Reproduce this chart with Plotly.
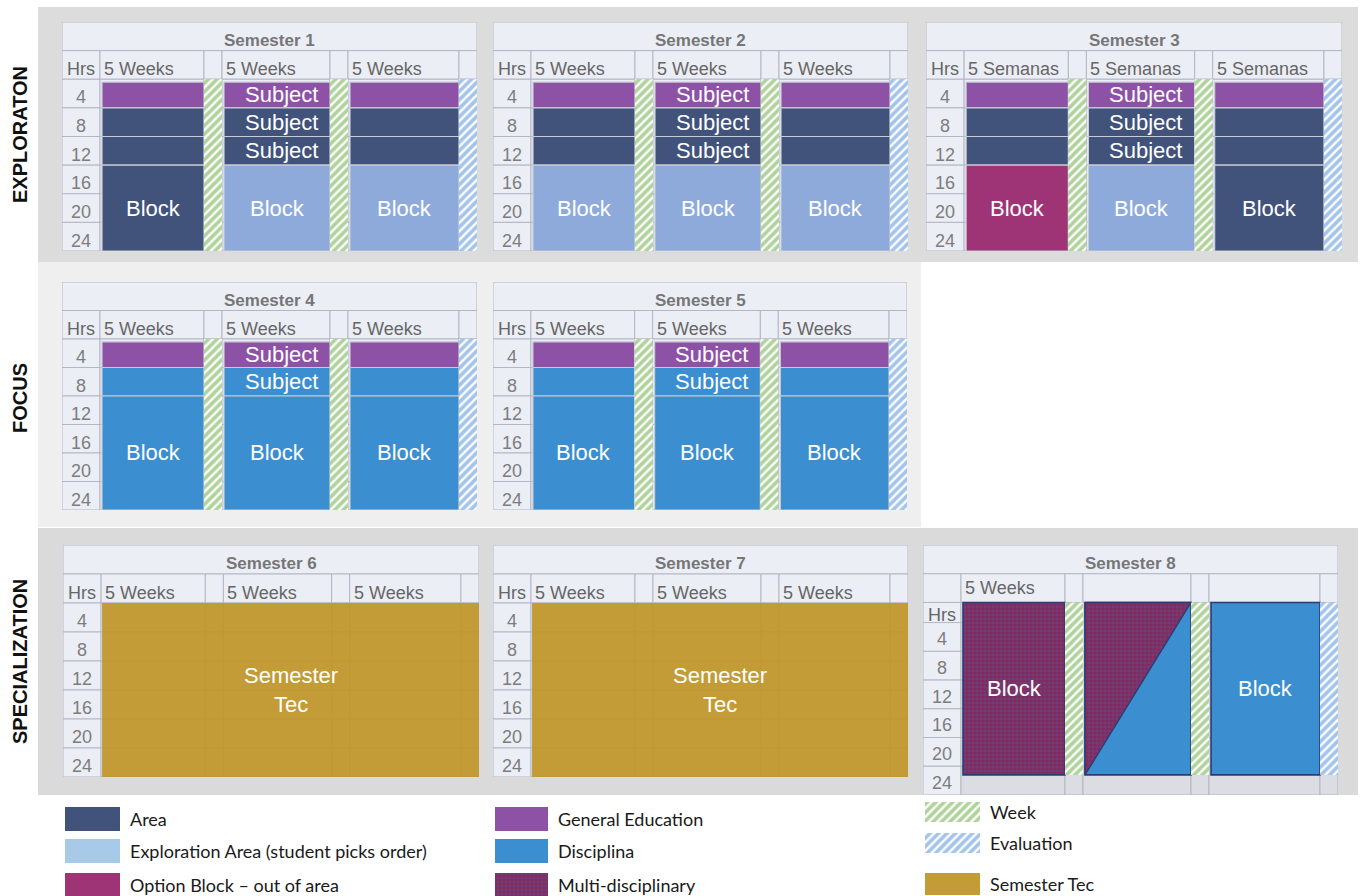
import plotly.graph_objects as go

W, H = 1362, 896

# ===================== chart content (data) =====================
stage_names = ["EXPLORATON", "FOCUS", "SPECIALIZATION"]
semester_names = ["Semester 1", "Semester 2", "Semester 3", "Semester 4",
                  "Semester 5", "Semester 6", "Semester 7", "Semester 8"]
hour_labels = ["4", "8", "12", "16", "20", "24"]
sem8_row_labels = ["Hrs", "4", "8", "12", "16", "20", "24"]
header_weeks = ["Hrs", "5 Weeks", "", "5 Weeks", "", "5 Weeks", ""]
header_semanas = ["Hrs", "5 Semanas", "", "5 Semanas", "", "5 Semanas", ""]
header_sem8 = ["", "5 Weeks", "", "", "", "", ""]
semester_headers = [header_weeks, header_weeks, header_semanas, header_weeks,
                    header_weeks, header_weeks, header_weeks, header_sem8]

# hours stacked from the top of each 5-week period: (category, hours, label)
sem1_periods = [
    [("GE", 4, ""), ("AR", 4, ""), ("AR", 4, ""), ("AR", 12, "Block")],
    [("GE", 4, "Subject"), ("AR", 4, "Subject"), ("AR", 4, "Subject"), ("EX", 12, "Block")],
    [("GE", 4, ""), ("AR", 4, ""), ("AR", 4, ""), ("EX", 12, "Block")],
]
sem2_periods = [
    [("GE", 4, ""), ("AR", 4, ""), ("AR", 4, ""), ("EX", 12, "Block")],
    [("GE", 4, "Subject"), ("AR", 4, "Subject"), ("AR", 4, "Subject"), ("EX", 12, "Block")],
    [("GE", 4, ""), ("AR", 4, ""), ("AR", 4, ""), ("EX", 12, "Block")],
]
sem3_periods = [
    [("GE", 4, ""), ("AR", 4, ""), ("AR", 4, ""), ("OB", 12, "Block")],
    [("GE", 4, "Subject"), ("AR", 4, "Subject"), ("AR", 4, "Subject"), ("EX", 12, "Block")],
    [("GE", 4, ""), ("AR", 4, ""), ("AR", 4, ""), ("AR", 12, "Block")],
]
sem4_periods = [
    [("GE", 4, ""), ("DI", 4, ""), ("DI", 16, "Block")],
    [("GE", 4, "Subject"), ("DI", 4, "Subject"), ("DI", 16, "Block")],
    [("GE", 4, ""), ("DI", 4, ""), ("DI", 16, "Block")],
]
sem5_periods = [
    [("GE", 4, ""), ("DI", 4, ""), ("DI", 16, "Block")],
    [("GE", 4, "Subject"), ("DI", 4, "Subject"), ("DI", 16, "Block")],
    [("GE", 4, ""), ("DI", 4, ""), ("DI", 16, "Block")],
]
sem8_periods = [
    [("MD", 24, "Block")],
    [("DI", 24, "")],
    [("DI", 24, "Block")],
]
semester_periods = [sem1_periods, sem2_periods, sem3_periods, sem4_periods,
                    sem5_periods, None, None, sem8_periods]
# whole-semester span (Semester Tec): (category, hours, label)
semester_span = [None, None, None, None, None,
                 ("ST", 24, "Semester<br>Tec"), ("ST", 24, "Semester<br>Tec"), None]
break_after_period = ["WK", "WK", "EV"]
has_breaks = [True, True, True, True, True, False, False, True]
sem8_split_period = 1          # diagonal split: multi-disciplinary upper-left
sem8_split_category = "MD"

legend_labels = [["Area", "Exploration Area (student picks order)", "Option Block – out of area"],
                 ["General Education", "Disciplina", "Multi-disciplinary"],
                 ["Week", "Evaluation", "Semester Tec"]]
legend_keys = [["AR", "EXL", "OB"], ["GE", "DI", "MD"], ["WK", "EV", "ST"]]

# ===================== layout / style constants =====================
FONT = "Liberation Sans, Arial, sans-serif"
panels_px = [(62, 22, 477, 251), (493, 22, 908, 251), (926, 22, 1342, 251),
             (62, 282, 477, 510), (493, 282, 907, 510),
             (63, 545, 479, 777), (493, 545, 908, 777), (923, 545, 1338, 795)]
col_edges = [0, 38, 142, 160, 268, 286, 397, 415]
sem8_row_edges = [0, 2.8, 6.8, 10.8, 14.8, 18.8, 22.8, 26.8]


def hatch(color):
    return dict(shape="/", fgcolor=color, bgcolor="#ffffff", size=6,
                solidity=0.62, fillmode="overlay")


md_pattern = dict(shape=".", fgcolor="#4f5498", bgcolor="#842a5e", size=4,
                  solidity=0.45, fillmode="overlay")
styles = {
    "AR": dict(color="#41537b"),
    "EX": dict(color="#8eaadb"),
    "EXL": dict(color="#a8cae9"),
    "OB": dict(color="#9e3476"),
    "GE": dict(color="#8d51a6"),
    "DI": dict(color="#3b8ecf"),
    "MD": dict(color="#842a5e", pattern=md_pattern),
    "WK": dict(color="#ffffff", pattern=hatch("#62a83a")),
    "EV": dict(color="#ffffff", pattern=hatch("#4a8ad8")),
    "ST": dict(color="#bf9428", opacity=0.93),
}
GRID_FILL = "#eceef6"
GRID_LINE = "#b3b7c5"
LABEL_SIZE = 22

traces = []
annotations = []
layout_axes = {}


def rect(xa, ya, x0, x1, y0, y1, key=None, fill=None, line_color="#c8ccd8",
         line_width=1.0):
    marker = dict(line=dict(color=line_color, width=line_width))
    if key is not None:
        st = styles[key]
        marker["color"] = st["color"]
        if "pattern" in st:
            marker["pattern"] = st["pattern"]
        if "opacity" in st:
            marker["opacity"] = st["opacity"]
    else:
        marker["color"] = fill
    return go.Bar(x=[(x0 + x1) / 2], y=[y1 - y0], base=[y0], width=[x1 - x0],
                  marker=marker, xaxis=xa, yaxis=ya, hoverinfo="skip",
                  showlegend=False)


def text(xa, ya, x, y, s, size, color, bold=False, xanchor="center", family=FONT):
    annotations.append(dict(
        x=x, y=y, xref=xa, yref=ya, text=f"<b>{s}</b>" if bold else s,
        showarrow=False, xanchor=xanchor, yanchor="middle",
        font=dict(family=family, size=size, color=color)))


for i, name in enumerate(semester_names):
    n = "" if i == 0 else str(i + 1)
    xa, ya = "x" + n, "y" + n
    px0, py0, px1, py1 = panels_px[i]
    is8 = (i == 7)
    ybottom = sem8_row_edges[-1] if is8 else 24
    layout_axes["xaxis" + n] = dict(domain=[px0 / W, px1 / W], range=[0, col_edges[-1]],
                                    visible=False, fixedrange=True, anchor=ya)
    layout_axes["yaxis" + n] = dict(domain=[1 - py1 / H, 1 - py0 / H], range=[ybottom, -8],
                                    visible=False, fixedrange=True, anchor=xa)
    ncol = len(col_edges) - 1
    # ---- table grid ----
    traces.append(rect(xa, ya, 0, col_edges[-1], -8, -4, fill=GRID_FILL,
                       line_color=GRID_LINE))
    for c in range(ncol):
        traces.append(rect(xa, ya, col_edges[c], col_edges[c + 1], -4, 0,
                           fill=GRID_FILL, line_color=GRID_LINE))
    row_edges = sem8_row_edges if is8 else [0, 4, 8, 12, 16, 20, 24]
    for r in range(len(row_edges) - 1):
        for c in range(ncol):
            fill = "#dcdde2" if (is8 and r == len(row_edges) - 2 and c > 0) else GRID_FILL
            traces.append(rect(xa, ya, col_edges[c], col_edges[c + 1],
                               row_edges[r], row_edges[r + 1], fill=fill,
                               line_color=GRID_LINE))
    # ---- grid texts ----
    text(xa, ya, col_edges[-1] / 2, -5.4, name, 17, "#767676", bold=True)
    hdr = semester_headers[i]
    for c, h in enumerate(hdr):
        if h:
            text(xa, ya, col_edges[c] + (3 if c == 0 else 2),
                 -2.0 if is8 else -1.4, h, 18, "#666666", xanchor="left")
    labels = sem8_row_labels if is8 else hour_labels
    for r, lab in enumerate(labels):
        yc = (row_edges[r] + row_edges[r + 1]) / 2 + (0.3 if is8 else 0.55)
        if is8 and r == 0:
            text(xa, ya, col_edges[0] + 3, yc, lab, 18, "#666666", xanchor="left")
        else:
            text(xa, ya, (col_edges[0] + col_edges[1]) / 2, yc, lab, 18, "#7d7d7d")

    # ---- content blocks ----
    periods = semester_periods[i]
    line_c = "#2b3c74" if is8 else "#c8ccd8"
    line_w = 1.6 if is8 else 1.2
    if periods is not None:
        for p, stack in enumerate(periods):
            c = 1 + 2 * p
            x0, x1 = col_edges[c] + 2, col_edges[c + 1]
            top = 0
            for key, hrs, lab in stack:
                y0 = top + (0.4 if (top == 0 and not is8) else 0)
                y1 = top + hrs
                traces.append(rect(xa, ya, x0, x1, y0, y1, key=key,
                                   line_color=line_c, line_width=line_w))
                if is8 and p == sem8_split_period:
                    st = styles[sem8_split_category]
                    traces.append(go.Scatter(
                        x=[x0, x1, x0, x0], y=[y0, y0, y1, y0], mode="lines",
                        fill="toself", fillcolor=st["color"],
                        fillpattern=st["pattern"],
                        line=dict(color=line_c, width=1.4),
                        xaxis=xa, yaxis=ya, hoverinfo="skip", showlegend=False))
                if lab:
                    dx = 4 if lab == "Subject" else 0
                    text(xa, ya, (x0 + x1) / 2 + dx, (y0 + y1) / 2, lab,
                         LABEL_SIZE, "#ffffff")
                top += hrs
    span = semester_span[i]
    if span is not None:
        key, hrs, lab = span
        x0, x1 = col_edges[1] + 1, col_edges[-1]
        traces.append(rect(xa, ya, x0, x1, 0, hrs, key=key, line_color="rgba(0,0,0,0)",
                           line_width=0))
        text(xa, ya, (x0 + x1) / 2, hrs / 2, lab, LABEL_SIZE, "#ffffff")
    if has_breaks[i]:
        for p, key in enumerate(break_after_period):
            c = 2 + 2 * p
            traces.append(rect(xa, ya, col_edges[c], col_edges[c + 1], 0, 24,
                               key=key, line_color="rgba(0,0,0,0)", line_width=0))

# ===================== legend (custom, bottom) =====================
layout_axes["xaxis9"] = dict(domain=[0, 1], range=[0, W], visible=False,
                             fixedrange=True, anchor="y9")
layout_axes["yaxis9"] = dict(domain=[0, 100 / H], range=[H, H - 100], visible=False,
                             fixedrange=True, anchor="x9")
legend_col_x = [65, 495, 925]
legend_sw_w = [55, 53, 55]
legend_row_y = [[819, 851, 885], [819, 851, 885], [812, 843, 884]]
legend_sw_h = [[24, 24, 24], [24, 24, 24], [20, 20, 22]]
for ci, col in enumerate(legend_labels):
    for ri, lab in enumerate(col):
        key = legend_keys[ci][ri]
        x0 = legend_col_x[ci]
        x1 = x0 + legend_sw_w[ci]
        yc = legend_row_y[ci][ri]
        hh = legend_sw_h[ci][ri] / 2
        traces.append(rect("x9", "y9", x0, x1, yc - hh, yc + hh, key=key,
                           line_color="rgba(0,0,0,0)", line_width=0))
        text("x9", "y9", x1 + 8, yc, lab, 18, "#1a1a1a", xanchor="left",
             family="Lato, Open Sans, sans-serif")


# ===================== section bands & labels =====================
def band(x0, y0, x1, y1, color):
    return dict(type="rect", xref="paper", yref="paper", x0=x0 / W, x1=x1 / W,
                y0=1 - y1 / H, y1=1 - y0 / H, fillcolor=color, line=dict(width=0),
                layer="below")


shapes = [band(38, 7, 1358, 262, "#dcdcdc"),
          band(38, 262, 921, 527, "#efefef"),
          band(38, 528, 1358, 795, "#dadada")]
stage_y = [135, 398, 662]
for s, yy in zip(stage_names, stage_y):
    annotations.append(dict(x=20 / W, y=1 - yy / H, xref="paper", yref="paper",
                            text=f"<b>{s}</b>", textangle=-90, showarrow=False,
                            xanchor="center", yanchor="middle",
                            font=dict(family=FONT, size=20, color="#111111")))

fig = go.Figure(traces)
fig.update_layout(
    width=W, height=H, autosize=False,
    margin=dict(l=0, r=0, t=0, b=0),
    paper_bgcolor="#ffffff", plot_bgcolor="rgba(0,0,0,0)",
    barmode="overlay", hovermode=False, showlegend=False,
    shapes=shapes, annotations=annotations,
    font=dict(family=FONT),
    **layout_axes,
)
fig.write_html("out.html", config={"displayModeBar": False},
               post_script="document.body.style.margin='0px';document.body.style.overflow='hidden';")
